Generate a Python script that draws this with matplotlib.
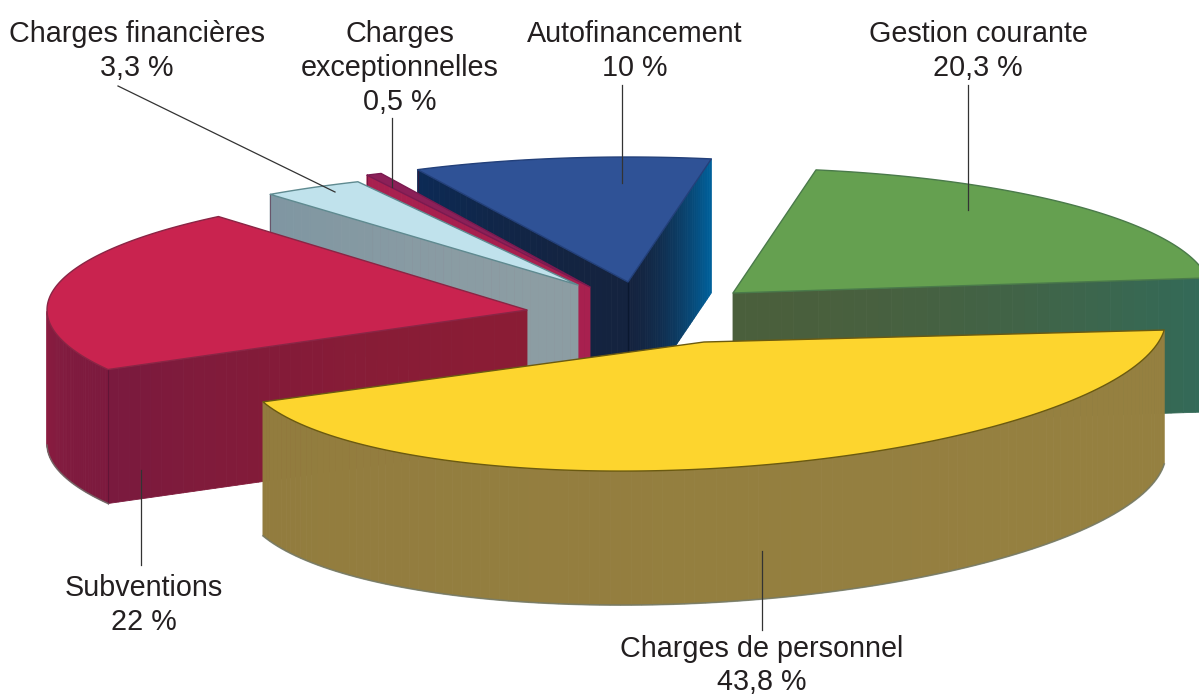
import numpy as np
import matplotlib
matplotlib.use("Agg")
import matplotlib.pyplot as plt
from matplotlib.colors import to_rgb

# ========== DATA ==========
labels = ["Charges de personnel", "Subventions", "Charges financières",
          "Charges\nexceptionnelles", "Autofinancement", "Gestion courante"]
values = [43.8, 22, 3.3, 0.5, 10, 20.3]
value_text = ["43,8 %", "22 %", "3,3 %", "0,5 %", "10 %", "20,3 %"]

# ========== LAYOUT (pixels) ==========
WIDTH, HEIGHT = 1199, 696
DEPTH = 134
apex_x = [704, 527, 578, 590, 628, 733]
apex_y = [342, 310, 285, 287, 282, 293]
radius_x = [462, 480, 500, 500, 480, 478]
radius_y = [127, 122, 115, 125, 125, 125]
shear = [-0.05, 0, 0, 0, 0, 0]
start_angle = [5, 150.8, 232, 243.5, 244, 280]
draw_order = [5, 4, 3, 2, 1, 0]

top_color = ["#fdd52e", "#c9234f", "#c0e2ec", "#8c2058", "#2f5296", "#65a050"]
edge_color = ["#6b5a10", "#8a2545", "#5f8a90", "#7a1a50", "#23407a", "#4a7a4a"]
arc_color = [("#958040", "#927c3e"), ("#7d1a3e", "#8c1c40"), ("#8499a3", "#8499a3"),
             ("#a8204f", "#a8204f"), ("#0e2347", "#0e2347"), ("#4a6a40", "#4a6a40")]
start_face = ["#958040", ("#8a1c35", "#7a1a3e"), ("#8c9da3", "#7f96a2"), "#a8204f",
              ("#14233f", "#0c2a55"), "#4a6a40"]
end_face = ["#958040", "#7d1a3e", "#8499a3", "#a8204f",
            ("#14233f", "#00609a"), ("#4a5f3c", "#336a58")]

text_x = [762, 144, 137, 400, 635, 978]
text_base = [[657, 690], [596, 630], [42, 76], [42, 76, 110], [42, 76], [42, 76]]
leader = [[(762, 551), (762, 630)], [(141, 470), (141, 565)], [(118, 86), (335, 192)],
          [(392, 118), (392, 187)], [(622, 85), (622, 183)], [(968, 85), (968, 210)]]


def project(i, t):
    t = np.radians(t)
    dx = radius_x[i] * np.cos(t)
    x = apex_x[i] + dx
    y = apex_y[i] + radius_y[i] * np.sin(t) + shear[i] * dx
    return x, y


def pair(c):
    return (c, c) if isinstance(c, str) else c


def draw_strip(ax, xs, ys, colors, zorder):
    # one extruded quad per segment so the colour can shade along the face
    c0, c1 = [np.array(to_rgb(c)) for c in pair(colors)]
    n = len(xs) - 1
    for k in range(n):
        col = c0 + (c1 - c0) * (k / max(n - 1, 1)) ** 1.8
        ax.fill([xs[k], xs[k + 1], xs[k + 1], xs[k]],
                [ys[k], ys[k + 1], ys[k + 1] + DEPTH, ys[k] + DEPTH],
                color=col, lw=0.6, zorder=zorder)


fig = plt.figure(figsize=(WIDTH / 100, HEIGHT / 100), dpi=100)
ax = fig.add_axes([0, 0, 1, 1])
ax.set_xlim(0, WIDTH)
ax.set_ylim(HEIGHT, 0)
ax.axis("off")

# ========== SLICES ==========
z = 1
for i in draw_order:
    t0 = start_angle[i]
    t1 = t0 + values[i] * 3.6
    ts = np.linspace(t0, t1, 120)
    xs, ys = project(i, ts)

    # side faces, only the ones turned to the viewer
    if np.cos(np.radians(t0)) < 0:
        ex, ey = project(i, t0)
        draw_strip(ax, np.linspace(apex_x[i], ex, 40), np.linspace(apex_y[i], ey, 40),
                   start_face[i], z)
        ax.plot([ex, ex], [ey, ey + DEPTH], color="#4a1030", lw=0.8, alpha=0.5, zorder=z + 0.5)
    if np.cos(np.radians(t1)) > 0:
        ex, ey = project(i, t1)
        draw_strip(ax, np.linspace(apex_x[i], ex, 40), np.linspace(apex_y[i], ey, 40),
                   end_face[i], z)
    if i == 4:
        ax.plot([apex_x[i]] * 2, [apex_y[i], apex_y[i] + DEPTH], color="#0a1830", lw=1, zorder=z + 0.5)
    front = np.sin(np.radians(ts)) > 0
    if front.any():
        draw_strip(ax, xs[front], ys[front], arc_color[i], z)
        ax.plot(xs[front], ys[front] + DEPTH, color="#6f7a70", lw=1.2, alpha=0.7, zorder=z + 0.5)

    # top surface
    ax.fill(np.r_[apex_x[i], xs], np.r_[apex_y[i], ys], facecolor=top_color[i],
            edgecolor=edge_color[i], lw=1, joinstyle="round", zorder=z + 1)
    z += 2

# ========== LABELS ==========
for i in range(len(labels)):
    pts = leader[i]
    ax.plot([pts[0][0], pts[1][0]], [pts[0][1], pts[1][1]], color="#333333", lw=0.9, zorder=50)
    lines = labels[i].split("\n") + [value_text[i]]
    for line, y in zip(lines, text_base[i]):
        ax.text(text_x[i], y, line, ha="center", va="baseline", fontsize=20.7,
                family="Liberation Sans", color="#231f20", zorder=60)

fig.savefig("out.png", dpi=100)
